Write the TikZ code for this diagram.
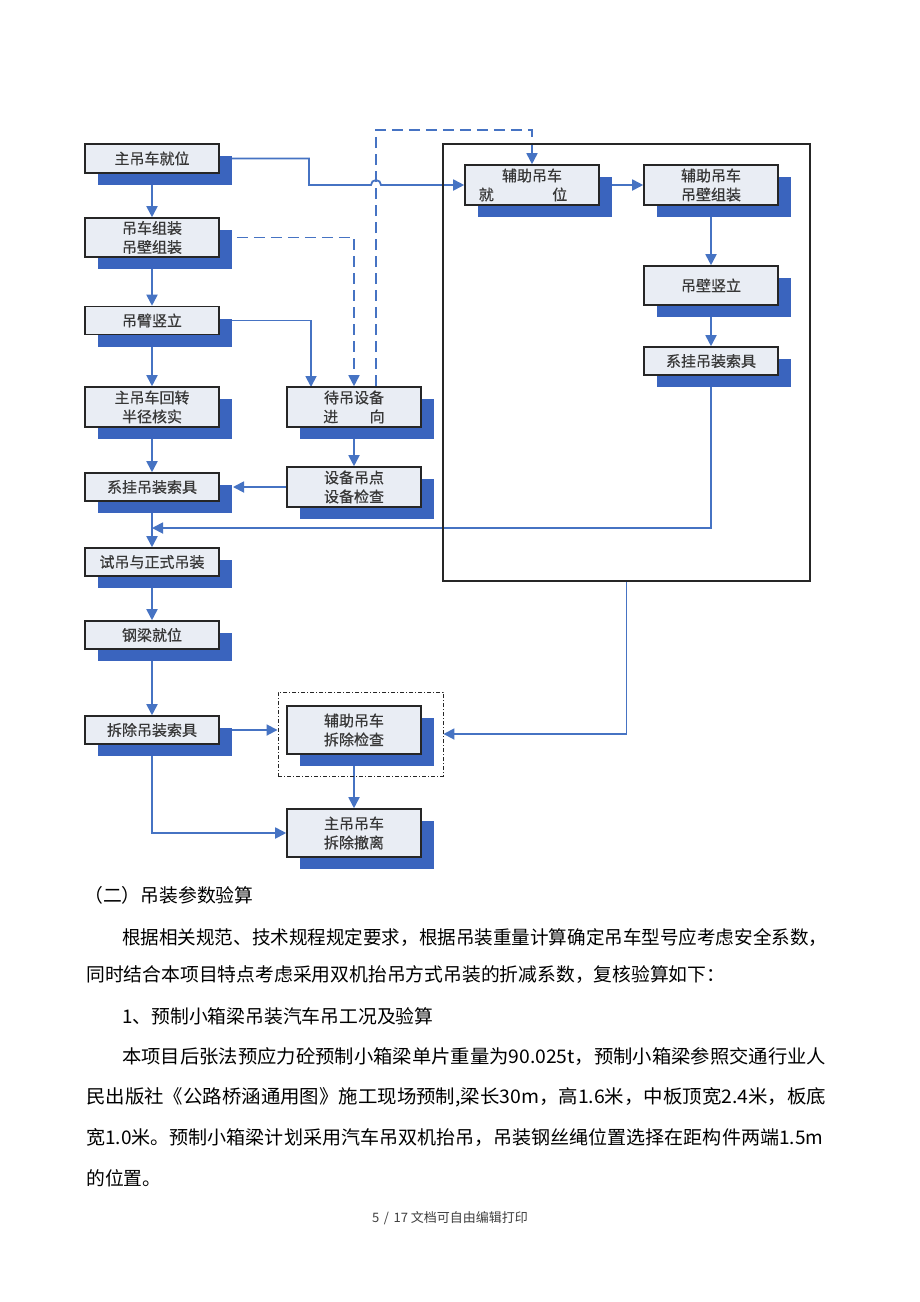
\documentclass[tikz,border=0pt]{standalone}
\usepackage{fontspec}
\usepackage{graphicx}
\setmainfont{Noto Sans CJK SC}
\newfontfamily\boxfont{Noto Sans CJK SC}[FakeBold=0.6]
\usetikzlibrary{arrows.meta,shadows,calc}
\pgfdeclarelayer{back}
\pgfdeclarelayer{bg}
\pgfsetlayers{back,bg,main}
\definecolor{lineblue}{RGB}{70,115,195}
\definecolor{shadowblue}{RGB}{58,100,190}
\definecolor{boxfill}{RGB}{233,237,244}
\definecolor{boxtext}{RGB}{55,55,55}
\begin{document}
\begin{tikzpicture}[x=1pt,y=-1pt,
  box/.style={draw=black!85,line width=1.6pt,fill=boxfill,minimum width=134pt,inner sep=0pt,
    align=center,text=boxtext,font=\boxfont\fontsize{15}{19}\selectfont,
    drop shadow={shadow xshift=13pt,shadow yshift=-12pt,opacity=1,fill=shadowblue}},
  arr/.style={draw=lineblue,line width=1.8pt,-{Triangle[length=11pt,width=11pt]}},
  dsh/.style={draw=lineblue,line width=1.7pt,dash pattern=on 11pt off 6pt},
  body/.style={anchor=west,inner sep=0pt,font=\fontsize{18.8}{20}\selectfont,text=black}]
\begin{pgfonlayer}{back}
\fill[white] (0,0) rectangle (920,1302);
\end{pgfonlayer}
\useasboundingbox (0,0) rectangle (920,1302);
% left column
\node[box,minimum height=29pt] (B1) at (152,158.5) {主吊车就位};
\node[box,minimum height=39pt] (B2) at (152,237.5) {吊车组装\\吊壁组装};
\node[box,minimum height=28pt] (B3) at (152,320.5) {吊臂竖立};
\node[box,minimum height=40pt] (B4) at (152,407) {主吊车回转\\半径核实};
\node[box,minimum height=28pt] (B5) at (152,487) {系挂吊装索具};
\node[box,minimum height=28pt] (B6) at (152,562) {试吊与正式吊装};
\node[box,minimum height=28pt] (B7) at (152,635) {钢梁就位};
\node[box,minimum height=28pt] (B8) at (152,730) {拆除吊装索具};
% middle column
\node[box,minimum height=40pt] (M1) at (354,407) {待吊设备\\进\hspace{2.1em}向};
\node[box,minimum height=40pt] (M2) at (354,487) {设备吊点\\设备检查};
\node[box,minimum height=48pt] (M3) at (354,730) {辅助吊车\\拆除检查};
\node[box,minimum height=48pt] (M4) at (354,833) {主吊吊车\\拆除撤离};
% right column
\node[box,minimum height=40pt] (R1) at (532,185) {辅助吊车\\\hspace{-1.2em}就\hspace{3.9em}位};
\node[box,minimum height=40pt] (R2) at (711,185) {辅助吊车\\吊壁组装};
\node[box,minimum height=39pt] (R3) at (711,285.5) {吊壁竖立};
\node[box,minimum height=28pt] (R4) at (711,361) {系挂吊装索具};
% frames
\node[draw=black!85,line width=1.2pt,minimum width=367pt,minimum height=437pt,inner sep=0pt] (F) at (626.5,362.5) {};
\node[draw=black!85,line width=0.9pt,dash pattern=on 4pt off 2pt on 1pt off 2pt,minimum width=165pt,minimum height=84pt,inner sep=0pt] (F3) at (360.5,734) {};
\coordinate (m1a) at (311,387);
\coordinate (b5e) at (233,487);
\coordinate (mj) at (152,528);
\begin{pgfonlayer}{bg}
\draw[arr] (B1.east) -- (309,158.5) -- (309,185) -- (371,185) arc[start angle=180,end angle=360,radius=5] -- (R1.west);
\draw[arr] (B1.south) -- (B2.north);
\draw[arr] (B2.south) -- (B3.north);
\draw[arr] (B3.south) -- (B4.north);
\draw[arr] (B4.south) -- (B5.north);
\draw[arr] (B5.south) -- (B6.north);
\draw[arr] (B6.south) -- (B7.north);
\draw[arr] (B7.south) -- (B8.north);
\draw[dsh,-{Triangle[length=11pt,width=11pt]}] (B2.east) -| (M1.north);
\draw[arr] (B3.east) -| (m1a);
\draw[dsh,-{Triangle[length=11pt,width=11pt]}] ($(M1.north)+(22,0)$) -- (376,130) -- (532,130) -- (R1.north);
\draw[arr] (M1.south) -- (M2.north);
\draw[arr] (M2.west) -- (b5e);
\draw[arr] (R1.east) -- (R2.west);
\draw[arr] (R2.south) -- (R3.north);
\draw[arr] (R3.south) -- (R4.north);
\draw[arr] (R4.south) |- (mj);
\draw[arr] (B8.east) -- (B8.east -| F3.west);
\draw[arr] (F.south) |- (F3.east);
\draw[arr] (M3.south) -- (M4.north);
\draw[arr] (B8.south) |- (M4.west);
\end{pgfonlayer}
% body text
\node[body] (t1) at (84,895) {（二）吊装参数验算};
\node[body] (t2) at (122,937) {\resizebox{705pt}{\height}{根据相关规范、技术规程规定要求，根据吊装重量计算确定吊车型号应考虑安全系数，}};
\node[body] (t3) at (86,975) {同时结合本项目特点考虑采用双机抬吊方式吊装的折减系数，复核验算如下：};
\node[body] (t4) at (122,1016) {1、预制小箱梁吊装汽车吊工况及验算};
\node[body] (t5) at (122,1057) {\resizebox{704pt}{\height}{本项目后张法预应力砼预制小箱梁单片重量为90.025t，预制小箱梁参照交通行业人}};
\node[body] (t6) at (86,1097) {\resizebox{740pt}{\height}{民出版社《公路桥涵通用图》施工现场预制,梁长30m，高1.6米，中板顶宽2.4米，板底}};
\node[body] (t7) at (86,1138) {\resizebox{737pt}{\height}{宽1.0米。预制小箱梁计划采用汽车吊双机抬吊，吊装钢丝绳位置选择在距构件两端1.5m}};
\node[body] (t8) at (86,1178) {的位置。};
\node[anchor=west,inner sep=0pt,font=\fontsize{13}{15}\selectfont,text=black!75] (ft) at (372,1218) {5\hspace{0.35em}/\hspace{0.35em}17 文档可自由编辑打印};
\end{tikzpicture}
\end{document}
